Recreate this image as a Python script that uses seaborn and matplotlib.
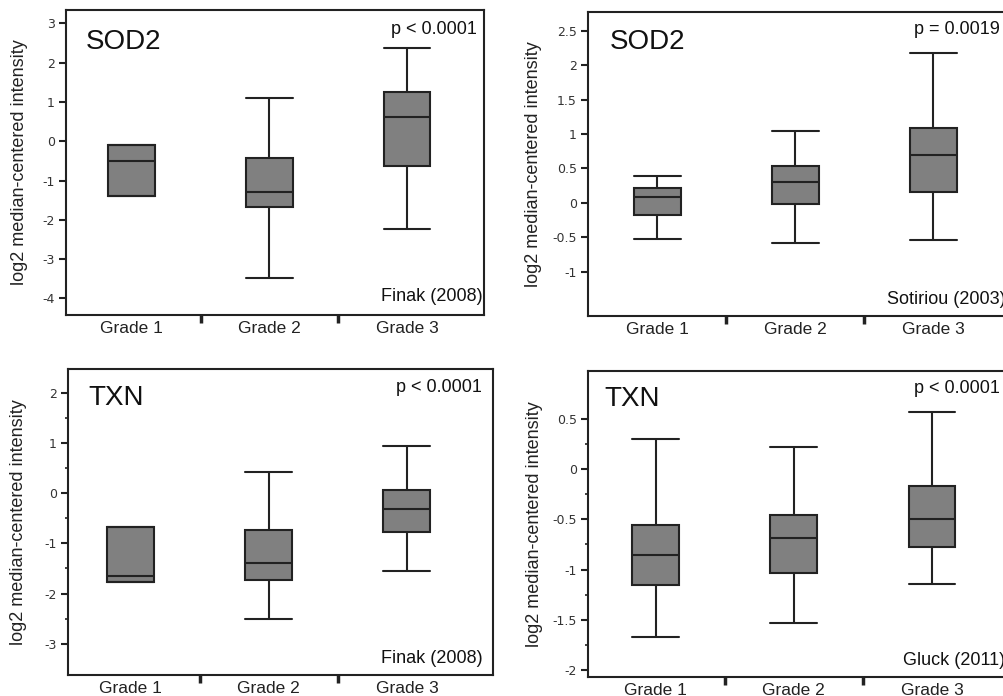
import numpy as np
import pandas as pd
import matplotlib
matplotlib.use("Agg")
import matplotlib.pyplot as plt
from matplotlib.ticker import FixedLocator, NullFormatter, FuncFormatter
import seaborn as sns

# five-number summaries: min, q1, median, q3, max
GRADES = ["Grade 1", "Grade 2", "Grade 3"]

SOD2_FINAK = [
    [-1.38, -1.38, -0.51, -0.09, -0.09],
    [-3.49, -1.67, -1.28, -0.43, 1.11],
    [-2.22, -0.62, 0.61, 1.26, 2.38],
]
SOD2_SOTIRIOU = [
    [-0.53, -0.17, 0.09, 0.22, 0.39],
    [-0.58, -0.01, 0.30, 0.54, 1.04],
    [-0.54, 0.16, 0.70, 1.08, 2.17],
]
TXN_FINAK = [
    [-1.76, -1.76, -1.64, -0.67, -0.67],
    [-2.51, -1.73, -1.39, -0.74, 0.43],
    [-1.56, -0.78, -0.31, 0.06, 0.93],
]
TXN_GLUCK = [
    [-1.67, -1.15, -0.85, -0.56, 0.30],
    [-1.53, -1.03, -0.69, -0.46, 0.22],
    [-1.14, -0.78, -0.50, -0.17, 0.57],
]

GENES = ["SOD2", "SOD2", "TXN", "TXN"]
PVALUES = ["p < 0.0001", "p = 0.0019", "p < 0.0001", "p < 0.0001"]
STUDIES = ["Finak (2008)", "Sotiriou (2003)", "Finak (2008)", "Gluck (2011)"]

# y tick values shown on each panel
YTICKS = [
    [-4, -3, -2, -1, 0, 1, 2, 3],
    [-1, -0.5, 0, 0.5, 1, 1.5, 2, 2.5],
    [-3, -2, -1, 0, 1, 2],
    [-2, -1.5, -1, -0.5, 0, 0.5],
]
YMINOR = [
    [],
    [],
    [-2.5, -1.5, -0.5, 0.5, 1.5, 2.5],
    [-1.75, -1.25, -0.75, -0.25, 0.25],
]


def to_frame(summary):
    rows = []
    for grade, vals in zip(GRADES, summary):
        for v in vals:
            rows.append({"grade": grade, "value": v})
    return pd.DataFrame(rows)


sns.set_theme(style="white")
plt.rcParams["font.family"] = ["Liberation Sans", "DejaVu Sans"]

W, H = 1004, 696
fig = plt.figure(figsize=(W / 100, H / 100), dpi=100)


def px_axes(left, top, right, bottom):
    return fig.add_axes([left / W, 1 - bottom / H, (right - left) / W, (bottom - top) / H])


# per-panel layout: pixel box, xlim, ylim, ylabel offset, label spots
panels = [
    dict(data=SOD2_FINAK, box=(66, 10, 484, 315), xlim=(-0.478, 2.56),
         ylim=(-4.42, 3.34), lab=38,
         gene=(0.048, 0.895), p=(0.9825, 0.937), study=(0.9968, 0.060)),
    dict(data=SOD2_SOTIRIOU, box=(588, 12, 1008, 316), xlim=(-0.5, 2.54),
         ylim=(-1.64, 2.77), lab=46,
         gene=(0.052, 0.901), p=(0.981, 0.942), study=(0.995, 0.053)),
    dict(data=TXN_FINAK, box=(68, 369, 493, 675), xlim=(-0.452, 2.623),
         ylim=(-3.62, 2.47), lab=41,
         gene=(0.049, 0.904), p=(0.974, 0.939), study=(0.976, 0.0545)),
    dict(data=TXN_GLUCK, box=(588, 371, 1008, 677), xlim=(-0.49, 2.55),
         ylim=(-2.07, 0.978), lab=45,
         gene=(0.040, 0.907), p=(0.981, 0.943), study=(0.993, 0.0546)),
]

edge = "#222222"

for i, pan in enumerate(panels):
    ax = px_axes(*pan["box"])
    df = to_frame(pan["data"])
    sns.boxplot(
        data=df, x="grade", y="value", order=GRADES, ax=ax,
        color="#808080", saturation=1, whis=(0, 100), width=0.34,
        linecolor=edge, linewidth=1.5, capwidths=0.34,
    )
    ax.set_xlim(*pan["xlim"])
    ax.set_ylim(*pan["ylim"])

    # separators between grades, labels at category centres
    ax.xaxis.set_major_locator(FixedLocator([0.5, 1.5]))
    ax.xaxis.set_major_formatter(NullFormatter())
    ax.xaxis.set_minor_locator(FixedLocator([0, 1, 2]))
    ax.set_xticklabels(GRADES, minor=True)
    ax.tick_params(axis="x", which="major", bottom=True, length=6, width=2.5,
                   color=edge, direction="out")
    ax.tick_params(axis="x", which="minor", bottom=True, length=0, pad=4,
                   labelsize=12.5, labelcolor="#222222")

    ax.yaxis.set_major_locator(FixedLocator(YTICKS[i]))
    ax.yaxis.set_minor_locator(FixedLocator(YMINOR[i]))
    ax.tick_params(axis="y", which="minor", left=True, length=2, width=1.2,
                   color=edge)
    ax.yaxis.set_major_formatter(FuncFormatter(lambda v, _: f"{v:g}"))
    ax.tick_params(axis="y", which="major", left=True, length=5, width=1.5,
                   color=edge, labelsize=9, pad=3, labelcolor="#333333")
    for t in ax.get_yticklabels():
        t.set_family("DejaVu Sans")

    ax.set_xlabel("")
    ax.set_ylabel("log2 median-centered intensity", fontsize=13, color="#222222")
    left, top, right, bottom = pan["box"]
    ax.yaxis.set_label_coords(-pan["lab"] / (right - left), 0.5)

    for sp in ax.spines.values():
        sp.set_color(edge)
        sp.set_linewidth(1.5)

    ax.text(*pan["gene"], GENES[i], transform=ax.transAxes, fontsize=20,
            ha="left", va="center", color="#111111")
    ax.text(*pan["p"], PVALUES[i], transform=ax.transAxes, fontsize=13,
            ha="right", va="center", color="#111111")
    ax.text(*pan["study"], STUDIES[i], transform=ax.transAxes, fontsize=13,
            ha="right", va="center", color="#111111")

fig.savefig("out.png", dpi=100)
